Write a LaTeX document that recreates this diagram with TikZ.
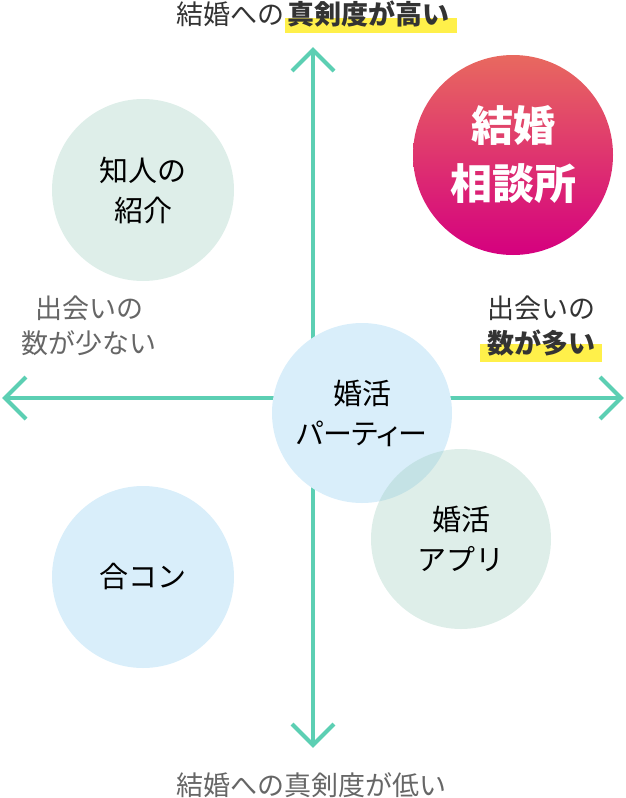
\documentclass[tikz,border=0pt]{standalone}
\usepackage{fontspec}
\setmainfont{Noto Sans CJK JP}
\usetikzlibrary{calc}
\pgfdeclarelayer{background}
\pgfsetlayers{background,main}
\definecolor{axisc}{HTML}{5CCFB3}
\definecolor{cgreen}{HTML}{DEEEE9}
\definecolor{cblue}{HTML}{D9EEFA}
\definecolor{appc}{RGB}{152,202,186}
\definecolor{hl}{HTML}{FFF04A}
\definecolor{gtop}{HTML}{E8695F}
\definecolor{gbot}{HTML}{D5007F}
\definecolor{txtdark}{HTML}{333333}
\definecolor{txtgray}{HTML}{666666}
\begin{document}
\begin{tikzpicture}[x=1pt,y=-1pt,
  axisline/.style={draw=axisc,line width=4pt},
  bubble/.style={circle,inner sep=0pt,minimum size=182pt,align=center,text=black,
    font=\fontsize{29}{40}\selectfont},
  lbl/.style={inner sep=0pt,font=\fontsize{27}{35}\selectfont,align=center},
  hlbox/.style={fill=hl}]
\useasboundingbox (0,0) rectangle (626,798);
% axes
\coordinate (top) at (313,50);
\coordinate (bot) at (313,745);
\coordinate (lft) at (5,398);
\coordinate (rgt) at (621,398);
\draw[axisline] (bot) -- (top);
\draw[axisline] (lft) -- (rgt);
\draw[axisline] ($(top)+(-21,21)$) -- (top) -- ($(top)+(21,21)$);
\draw[axisline] ($(bot)+(-21,-21)$) -- (bot) -- ($(bot)+(21,-21)$);
\draw[axisline] ($(lft)+(21,-21)$) -- (lft) -- ($(lft)+(21,21)$);
\draw[axisline] ($(rgt)+(-21,-21)$) -- (rgt) -- ($(rgt)+(-21,21)$);
% bubbles
\node[bubble,fill=cgreen] (chijin) at (143,190) {知人の\\紹介};
\node[bubble,fill=cblue] (goukon) at (143,577) {合コン};
\node[bubble,fill=cblue,minimum size=180pt] (party) at (362,413)
  {婚活\\{\addfontfeatures{RawFeature=+palt}パーティー}};
\fill[appc,fill opacity=0.32] (461,539) circle (90);
\node[bubble,minimum size=180pt] (app) at (461,539) {婚活\\アプリ};
\node[circle,inner sep=0pt,minimum size=200pt,top color=gtop,bottom color=gbot,
  text=white,align=center,font=\fontsize{42}{58}\selectfont\bfseries] (soudan) at (513,155) {結婚\\相談所};
% labels
\fill[hlbox] (285,18) rectangle (457,33);
\node[lbl,anchor=east,text=txtdark] (t1) at (285,14) {結婚への};
\node[lbl,anchor=west,text=txtdark,font=\fontsize{27}{35}\selectfont\bfseries] (t2) at (287,14) {真剣度が高い};
\node[lbl,text=txtgray] (b1) at (311,785) {結婚への真剣度が低い};
\node[lbl,text=txtgray] (l1) at (89,308) {出会いの};
\node[lbl,text=txtgray] (l2) at (89,343) {数が少ない};
\fill[hlbox] (480,344) rectangle (602,362);
\node[lbl,text=txtdark] (r1) at (541,308) {出会いの};
\node[lbl,text=txtdark,font=\fontsize{27}{35}\selectfont\bfseries] (r2) at (541,343) {数が多い};
\end{tikzpicture}
\end{document}
